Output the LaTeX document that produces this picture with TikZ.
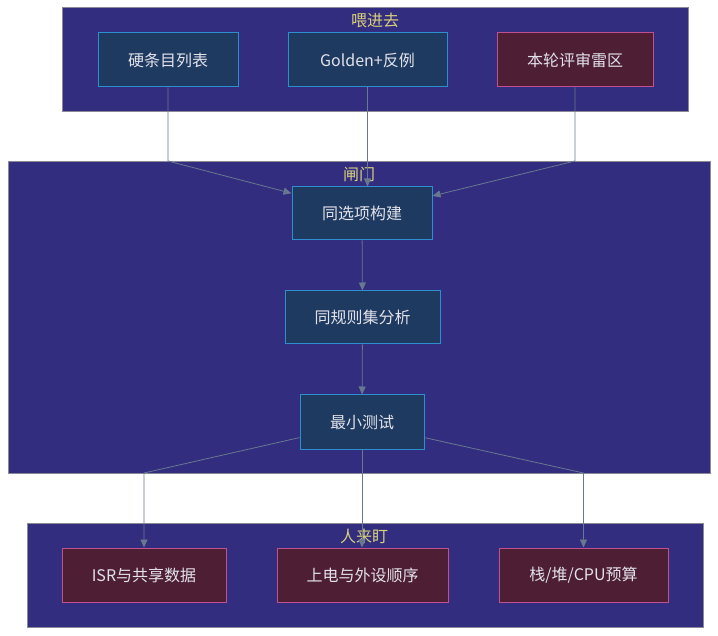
\documentclass[tikz,border=0pt]{standalone}
\usepackage{fontspec}
\setmainfont{Noto Sans CJK SC}
\usetikzlibrary{arrows.meta,calc}
\definecolor{clfill}{HTML}{332D80}
\definecolor{clline}{HTML}{8A8A96}
\definecolor{bfill}{HTML}{1F3A60}
\definecolor{bline}{HTML}{2E8FD0}
\definecolor{rfill}{HTML}{4E1E35}
\definecolor{rline}{HTML}{C0508F}
\definecolor{txt}{HTML}{E2E2EA}
\definecolor{ttl}{HTML}{D8D07A}
\definecolor{edgec}{HTML}{68788F}
\tikzset{
  cluster/.style={draw=clline, fill=clfill, line width=0.8pt},
  bluebox/.style={draw=bline, fill=bfill, line width=1pt, text=txt, font=\fontsize{16}{18}\selectfont, inner sep=0pt},
  redbox/.style={draw=rline, fill=rfill, line width=1pt, text=txt, font=\fontsize{16}{18}\selectfont, inner sep=0pt},
  ctitle/.style={text=ttl, font=\fontsize{16}{18}\selectfont, inner sep=0pt},
  edge/.style={draw=edgec, line width=0.8pt, -{Triangle[length=8pt,width=7pt]}}
}
\begin{document}
\begin{tikzpicture}[x=1pt,y=-1pt]
\useasboundingbox[fill=white] (0,0) rectangle (718,636);
% clusters
\draw[cluster] (62,7) rectangle (688,111);
\node[ctitle] (t1) at (375,20) {喂进去};
\draw[cluster] (8,161) rectangle (710,473);
\coordinate (c2n) at (0,161);
\coordinate (c2s) at (0,473);
\node[ctitle] (t2) at (359,174) {闸门};
\draw[cluster] (27,523) rectangle (703,627);
\node[ctitle] (t3) at (364,536) {人来盯};
% top nodes
\node[bluebox, minimum width=140pt, minimum height=54pt] (n1) at (168,60) {硬条目列表};
\node[bluebox, minimum width=159pt, minimum height=54pt] (n2) at (367.5,60) {Golden+反例};
\node[redbox, minimum width=156pt, minimum height=54pt] (n3) at (575,60) {本轮评审雷区};
% middle nodes
\node[bluebox, minimum width=140pt, minimum height=53pt] (b1) at (362,213.5) {同选项构建};
\node[bluebox, minimum width=155pt, minimum height=53pt] (b2) at (362.5,317.5) {同规则集分析};
\node[bluebox, minimum width=124pt, minimum height=54pt] (b3) at (362,422) {最小测试};
% bottom nodes
\node[redbox, minimum width=164pt, minimum height=54pt] (r1) at (144,575) {ISR与共享数据};
\node[redbox, minimum width=171pt, minimum height=54pt] (r2) at (362.5,575) {上电与外设顺序};
\node[redbox, minimum width=169pt, minimum height=54pt] (r3) at (583.5,575) {栈/堆/CPU预算};
% edges
\coordinate (k1) at (n1.south |- c2n);
\coordinate (k3) at (n3.south |- c2n);
\draw[edge] (n1.south) -- (k1) -- (b1.164);
\draw[edge] (n2.south) -- (n2.south |- b1.north);
\draw[edge] (n3.south) -- (k3) -- (b1.14);
\draw[edge] (b1) -- (b2);
\draw[edge] (b2) -- (b3);
\coordinate (j1) at (r1.north |- c2s);
\coordinate (j3) at (r3.north |- c2s);
\draw[edge] (b3.194) -- (j1) -- (r1.north);
\draw[edge] (b3.south) -- (b3.south |- r2.north);
\draw[edge] (b3.346) -- (j3) -- (r3.north);
\end{tikzpicture}
\end{document}
